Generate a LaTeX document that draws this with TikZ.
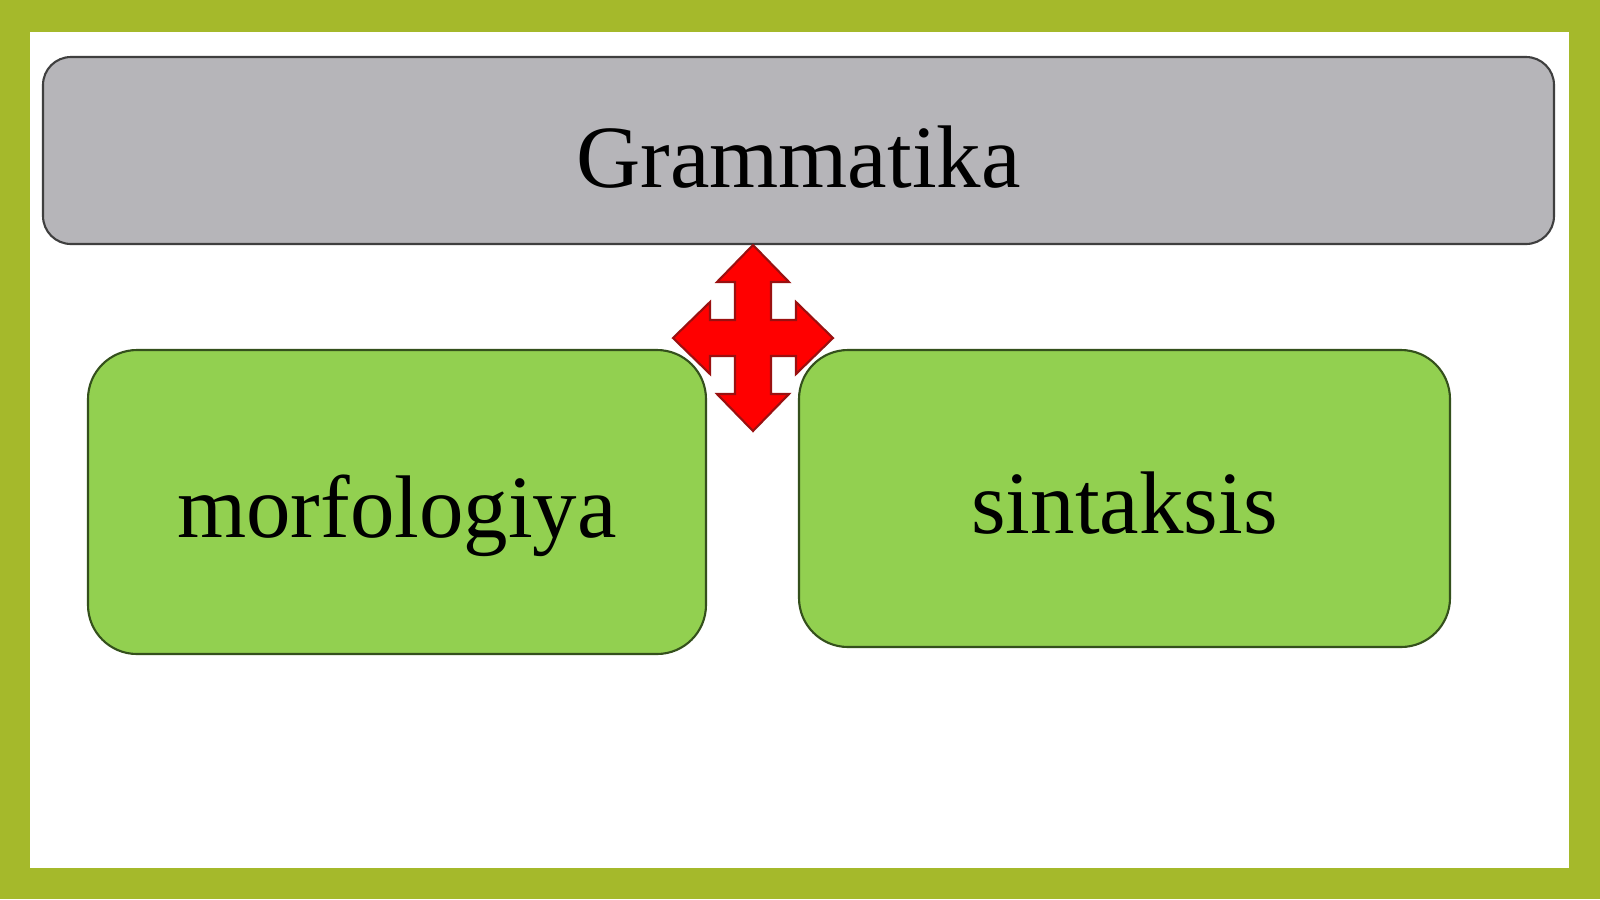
\documentclass[tikz,border=0pt]{standalone}
\usepackage{fontspec}
\setmainfont{Liberation Serif}
\definecolor{framegreen}{HTML}{A5B92B}
\definecolor{topgray}{HTML}{B6B5B9}
\definecolor{topline}{HTML}{3F3F3F}
\definecolor{leafgreen}{HTML}{92D050}
\definecolor{leafline}{HTML}{34501C}
\definecolor{hubline}{HTML}{9A1010}
\tikzset{
	topbox/.style={draw=topline, fill=topgray, line width=0.6pt, rounded corners=2.8mm, inner sep=0pt, text height=7.3mm, text depth=0mm, font=\fontsize{25.3}{30}\selectfont},
	leafbox/.style={draw=leafline, fill=leafgreen, line width=0.6pt, rounded corners=4.9mm, inner sep=0pt, text height=7mm, text depth=0mm, font=\fontsize{25.3}{30}\selectfont}
}
\begin{document}
\begin{tikzpicture}[x=0.1mm, y=-0.1mm]
		\fill[framegreen] (0,0) rectangle (1600,899);
		\fill[white] (30,32) rectangle (1569,868);

		\node (gram)[topbox, minimum width=151.1mm, minimum height=18.7mm] at (798.5,150.5) {Grammatika};
		\node (morf)[leafbox, minimum width=61.8mm, minimum height=30.4mm] at (397,502) {morfologiya};
		\node (sint)[leafbox, minimum width=65.1mm, minimum height=29.7mm] at (1124.5,498.5) {sintaksis};

		\coordinate (hub) at (753,338);
		\draw[fill=red, draw=hubline, line width=0.6pt, shift={(hub)}]
			(0,-93) -- (36,-56) -- (18,-56) -- (18,-18) -- (43,-18) -- (43,-36) -- (80,0)
			-- (43,36) -- (43,18) -- (18,18) -- (18,56) -- (36,56) -- (0,93)
			-- (-36,56) -- (-18,56) -- (-18,18) -- (-43,18) -- (-43,36) -- (-80,0)
			-- (-43,-36) -- (-43,-18) -- (-18,-18) -- (-18,-56) -- (-36,-56) -- cycle;
	\end{tikzpicture}
\end{document}
